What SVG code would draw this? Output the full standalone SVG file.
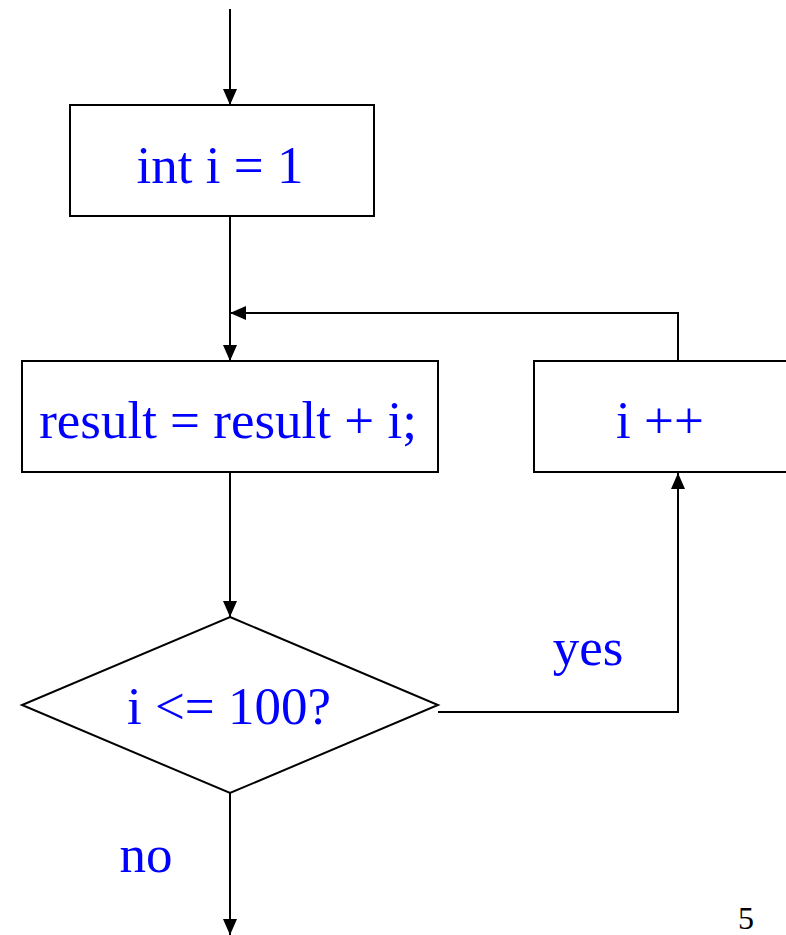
<svg xmlns="http://www.w3.org/2000/svg" width="786" height="935" viewBox="0 0 786 935">
  <style>
    .box { fill: #fff; stroke: #000; stroke-width: 2; }
    .lbl { font-family: "Liberation Serif", "Times New Roman", serif; font-size: 53px; fill: #0000ff; text-anchor: middle; }
    .edge { fill: none; stroke: #000; stroke-width: 2; }
    .pg { font-family: "Liberation Serif", "Times New Roman", serif; font-size: 32px; fill: #000; }
  </style>
  <defs>
    <marker id="arrow" viewBox="0 0 16 14" refX="16" refY="7" markerWidth="16" markerHeight="14" markerUnits="userSpaceOnUse" orient="auto">
      <path d="M0,0 L16,7 L0,14 z" fill="#000"/>
    </marker>
  </defs>
  <rect width="786" height="935" fill="#fff"/>

  <g id="connectors">
    <path class="edge" d="M230,9 V105" marker-end="url(#arrow)"/>
    <path class="edge" d="M230,216 V361" marker-end="url(#arrow)"/>
    <path class="edge" d="M678,361 V313 H230" marker-end="url(#arrow)"/>
    <path class="edge" d="M230,472 V617" marker-end="url(#arrow)"/>
    <path class="edge" d="M438,712 H678 V473" marker-end="url(#arrow)"/>
    <path class="edge" d="M230,793 V935" marker-end="url(#arrow)"/>
  </g>

  <g id="init">
    <rect class="box" x="70" y="105" width="304" height="111"/>
    <text class="lbl" x="220" y="183">int i = 1</text>
  </g>

  <g id="accumulate">
    <rect class="box" x="22" y="361" width="416" height="111"/>
    <text class="lbl" x="228" y="438">result = result + i;</text>
  </g>

  <g id="increment">
    <rect class="box" x="534" y="361" width="260" height="111"/>
    <text class="lbl" x="660" y="438">i ++</text>
  </g>

  <g id="condition">
    <polygon class="box" points="230,617 438,705 230,793 22,705"/>
    <text class="lbl" x="229" y="724">i &lt;= 100?</text>
  </g>

  <g id="labels">
    <text class="lbl" x="588" y="665">yes</text>
    <text class="lbl" x="146" y="872">no</text>
    <text class="pg" x="738" y="929">5</text>
  </g>
</svg>
